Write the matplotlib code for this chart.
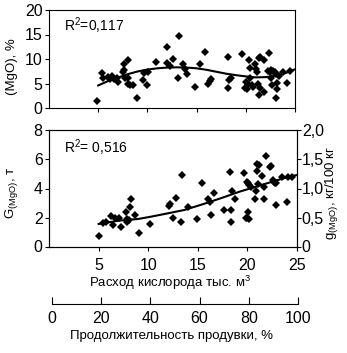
import matplotlib
matplotlib.use("Agg")
import matplotlib.pyplot as plt

plt.rcParams['font.family'] = ['Liberation Sans', 'DejaVu Sans']
plt.rcParams['mathtext.fontset'] = 'custom'
plt.rcParams['mathtext.rm'] = 'Liberation Sans'
plt.rcParams['mathtext.it'] = 'Liberation Sans:italic'

# (MgO) в шлаке, %
mgo_x = [4.9, 5.4, 5.5, 6.0, 6.2, 6.4, 6.6, 6.9, 7.05, 7.5, 7.65, 7.7, 7.6, 8.0, 8.05, 8.0,
         8.25, 8.5, 8.9, 9.6, 9.7, 9.95, 10.1, 10.9, 11.95, 11.95, 12.3, 12.6, 13.2, 13.1,
         13.6, 13.8, 14.0, 14.8, 15.35, 15.9, 16.2, 16.4, 16.5, 18.2, 18.2, 18.3, 18.5,
         19.6, 19.9, 20.15, 20.0, 20.25, 20.35, 20.4, 20.4, 20.6, 20.7, 20.9, 21.0, 21.1,
         21.3, 21.4, 21.2, 21.3, 21.4, 21.8, 21.85, 22.35, 22.3, 22.45, 22.6, 22.7, 22.6,
         22.8, 22.95, 23.1, 23.2, 23.05, 23.2, 23.4, 24.15, 23.8, 24.5]
mgo_y = [1.45, 7.1, 6.2, 6.4, 5.9, 6.6, 5.9, 6.1, 5.4, 7.3, 7.8, 6.2, 9.0, 9.8, 6.1, 4.9,
         4.7, 4.7, 2.1, 5.7, 7.1, 4.7, 7.4, 9.3, 12.5, 9.1, 8.6, 9.9, 14.7, 6.1,
         8.9, 8.0, 6.9, 4.35, 8.9, 11.4, 5.0, 5.5, 5.9, 10.5, 4.0, 5.7, 6.2,
         11.0, 4.0, 3.8, 5.4, 5.0, 9.8, 8.1, 6.05, 4.7, 4.2, 8.9, 7.9, 7.3,
         10.3, 10.5, 4.8, 2.65, 4.1, 3.3, 9.8, 11.3, 7.55, 7.3, 6.05, 4.7, 7.7,
         7.6, 7.3, 6.9, 3.8, 2.1, 5.2, 6.6, 5.2, 7.4, 7.6]
mgo_trend_x = [5, 6, 7, 8, 9, 10, 11, 12, 13, 14, 15, 16, 17, 18, 19, 20, 21, 22, 23, 24, 25]
mgo_trend_y = [4.6, 5.5, 6.2, 6.9, 7.45, 7.85, 8.1, 8.25, 8.3, 8.25, 8.1, 7.8, 7.4, 7.0,
               6.7, 6.45, 6.25, 6.3, 6.55, 7.1, 7.9]

# G(MgO), т
g_x = [5.0, 5.45, 5.7, 6.2, 6.45, 6.65, 7.05, 7.3, 7.8, 7.9, 7.9, 8.05, 8.2, 8.3, 8.7, 9.1,
       10.15, 12.15, 12.1, 12.5, 12.8, 13.3, 13.4, 14.05, 14.9, 15.4, 16.05, 16.2, 16.3,
       16.6, 17.6, 18.2, 18.3, 18.3, 18.4, 18.8, 19.7, 19.85, 20.0, 20.15, 20.1, 20.0,
       20.1, 20.2, 20.35, 20.8, 20.85, 20.95, 21.0, 21.2, 21.1, 21.45, 21.7, 21.7, 21.85,
       22.3, 22.35, 22.6, 22.7, 22.8, 22.9, 22.9, 23.5, 23.95, 24.1, 24.5]
g_y = [0.75, 1.6, 1.7, 2.1, 1.48, 1.95, 2.0, 1.32, 2.4, 1.7, 1.9, 1.83, 2.75, 3.25, 2.17, 0.95,
       1.55, 2.93, 2.8, 2.0, 3.37, 1.7, 4.9, 2.75, 1.9, 4.36, 3.25, 3.1, 2.2,
       3.67, 2.52, 5.16, 2.52, 1.7, 3.83, 3.25, 5.1, 2.0, 1.94, 1.9, 2.4, 4.47,
       4.36, 4.25, 4.1, 3.3, 3.85, 5.23, 5.7, 5.6, 4.3, 4.86, 3.25, 4.08, 6.24,
       5.5, 5.57, 4.6, 4.45, 4.36, 4.4, 2.86, 4.8, 3.1, 4.77, 4.8]
g_trend_x = [5, 7, 9, 10.3, 12, 13.65, 15.8, 17.5, 19.2, 20.85, 22.5, 24.2, 25]
g_trend_y = [1.55, 1.78, 1.9, 2.06, 2.29, 2.52, 2.98, 3.37, 3.78, 4.12, 4.47, 4.81, 4.93]

top_yticks = [0, 5, 10, 15, 20]
bot_yticks = [0, 2, 4, 6, 8]
right_ticks = [0, 0.5, 1.0, 1.5, 2.0]
right_labels = ['0', '0,5', '1,0', '1,5', '2,0']
x_ticks = [5, 10, 15, 20, 25]
pct_ticks = [0, 20, 40, 60, 80, 100]

W, H = 347, 353
fig = plt.figure(figsize=(W / 100, H / 100), dpi=100)

def box(l, r, t, b):
    return [l / W, (H - b) / H, (r - l) / W, (b - t) / H]

tick_fs = 11.5
lbl_fs = 9.5

# верхний график
ax1 = fig.add_axes(box(49, 295, 10, 108))
ax1.plot(mgo_x, mgo_y, 'D', color='black', ms=3.6, mew=0)
ax1.plot(mgo_trend_x, mgo_trend_y, color='black', lw=1.5)
ax1.set_xlim(0, 25)
ax1.set_ylim(0, 20)
ax1.set_xticks(x_ticks)
ax1.set_xticklabels([])
ax1.set_yticks(top_yticks)
ax1.tick_params(direction='out', length=3, width=0.8, labelsize=tick_fs, pad=1.5)
ax1.text(0.06, 0.84, 'R$^2$=0,117', transform=ax1.transAxes, fontsize=10, va='center')

# нижний график
ax2 = fig.add_axes(box(49, 297, 130.5, 246.5))
ax2.plot(g_x, g_y, 'D', color='black', ms=3.6, mew=0)
ax2.plot(g_trend_x, g_trend_y, color='black', lw=1.5)
ax2.set_xlim(0, 25)
ax2.set_ylim(0, 8)
ax2.set_xticks(x_ticks)
ax2.set_yticks(bot_yticks)
ax2.tick_params(direction='out', length=3, width=0.8, labelsize=tick_fs, pad=1.5)
ax2.tick_params(axis='x', pad=5)
ax2.text(0.06, 0.85, 'R$^2$= 0,516', transform=ax2.transAxes, fontsize=10, va='center')

ax3 = ax2.twinx()
ax3.set_ylim(0, 2)
ax3.set_yticks(right_ticks)
ax3.set_yticklabels(right_labels)
ax3.tick_params(direction='out', length=3, width=0.8, labelsize=tick_fs, pad=0.5)

for a in (ax1, ax2, ax3):
    for s in a.spines.values():
        s.set_linewidth(0.8)

# шкала продолжительности продувки
ax4 = fig.add_axes(box(52, 298, 303.9, 304))
ax4.set_xlim(0, 100)
ax4.set_xticks(pct_ticks)
ax4.set_yticks([])
for s in ('left', 'right', 'top'):
    ax4.spines[s].set_visible(False)
ax4.spines['bottom'].set_linewidth(0.8)
ax4.patch.set_visible(False)
ax4.tick_params(direction='in', length=5, width=0.8, labelsize=tick_fs, pad=5)

fig.text(12 / W, 1 - 67 / H, '(MgO), %', rotation=90, ha='center', va='center', fontsize=lbl_fs)
fig.text(12 / W, 1 - 193 / H, 'G$_{\\mathrm{(MgO)}}$, т', rotation=90, ha='center', va='center', fontsize=lbl_fs)
fig.text(332 / W, 1 - 193 / H, 'g$_{\\mathrm{(MgO)}}$, кг/100 кг', rotation=90, ha='center', va='center', fontsize=lbl_fs)
fig.text(170 / W, 1 - 287 / H, 'Расход кислорода тыс. м$^3$', ha='center', va='baseline', fontsize=lbl_fs)
fig.text(172 / W, 1 - 339 / H, 'Продолжительность продувки, %', ha='center', va='baseline', fontsize=lbl_fs)

fig.savefig('out.png', dpi=100)
